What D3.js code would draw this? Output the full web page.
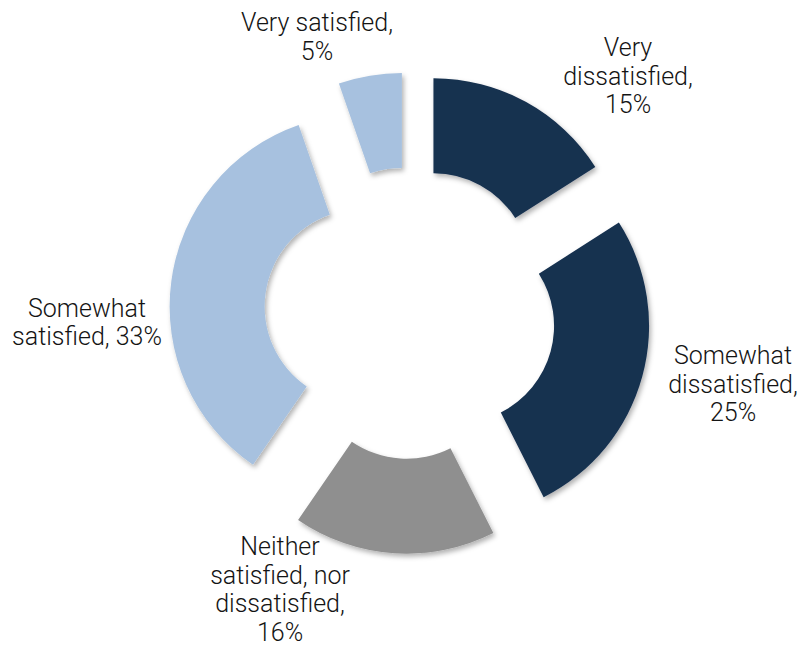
<!DOCTYPE html>
<html>
<head>
<meta charset="utf-8">
<script src="https://cdn.jsdelivr.net/npm/d3@7/dist/d3.min.js"></script>
<style>
  html, body { margin: 0; padding: 0; background: #ffffff; }
  svg { display: block; }
  .lbl { font-family: Roboto, "Liberation Sans", sans-serif; font-weight: 300; font-size: 25px; fill: #141414; }
</style>
</head>
<body>
<svg id="chart" width="799" height="647"></svg>
<script>
// Survey answers, clockwise from 12 o'clock
const categories = ["Very dissatisfied", "Somewhat dissatisfied", "Neither satisfied, nor dissatisfied", "Somewhat satisfied", "Very satisfied"];
const values = [15, 25, 16, 33, 5];
const labelLines = [
  ["Very", "dissatisfied,", "15%"],
  ["Somewhat", "dissatisfied,", "25%"],
  ["Neither", "satisfied, nor", "dissatisfied,", "16%"],
  ["Somewhat", "satisfied, 33%"],
  ["Very satisfied,", "5%"]
];
const colors = ["#15304f", "#15304f", "#8f8f8f", "#a7c1df", "#a7c1df"];

// Layout
const W = 799, H = 647;
const cx = 410, cy = 313;
const outerR = 192, innerR = 97;
const explode = 48.8;
const lineH = 28.6;
// label block: centre x and first baseline y
const labelPos = [
  [628, 56], [733, 364], [280, 555], [87, 316.5], [317, 31]
];

const svg = d3.select("#chart");
const defs = svg.append("defs");
const f = defs.append("filter").attr("id", "shadow")
  .attr("x", "-20%").attr("y", "-20%").attr("width", "140%").attr("height", "140%");
f.append("feDropShadow").attr("dx", 2).attr("dy", 3).attr("stdDeviation", 2.5)
  .attr("flood-color", "#000").attr("flood-opacity", 0.3);

const pie = d3.pie().sort(null).value(d => d).startAngle(0).endAngle(2 * Math.PI);
const arc = d3.arc().innerRadius(innerR).outerRadius(outerR);
const arcs = pie(values);

const g = svg.append("g").attr("transform", `translate(${cx},${cy})`);
g.selectAll("path.slice")
  .data(arcs)
  .join("path")
  .attr("class", "slice")
  .attr("d", arc)
  .attr("fill", (d, i) => colors[i])
  .attr("filter", "url(#shadow)")
  .attr("transform", d => {
    const a = (d.startAngle + d.endAngle) / 2;
    return `translate(${explode * Math.sin(a)},${-explode * Math.cos(a)})`;
  });

// data labels
const lg = svg.append("g");
labelLines.forEach((lines, i) => {
  const t = lg.append("text").attr("class", "lbl").attr("text-anchor", "middle");
  lines.forEach((s, j) => {
    t.append("tspan").attr("x", labelPos[i][0]).attr("y", labelPos[i][1] + j * lineH).text(s);
  });
});
</script>
</body>
</html>
